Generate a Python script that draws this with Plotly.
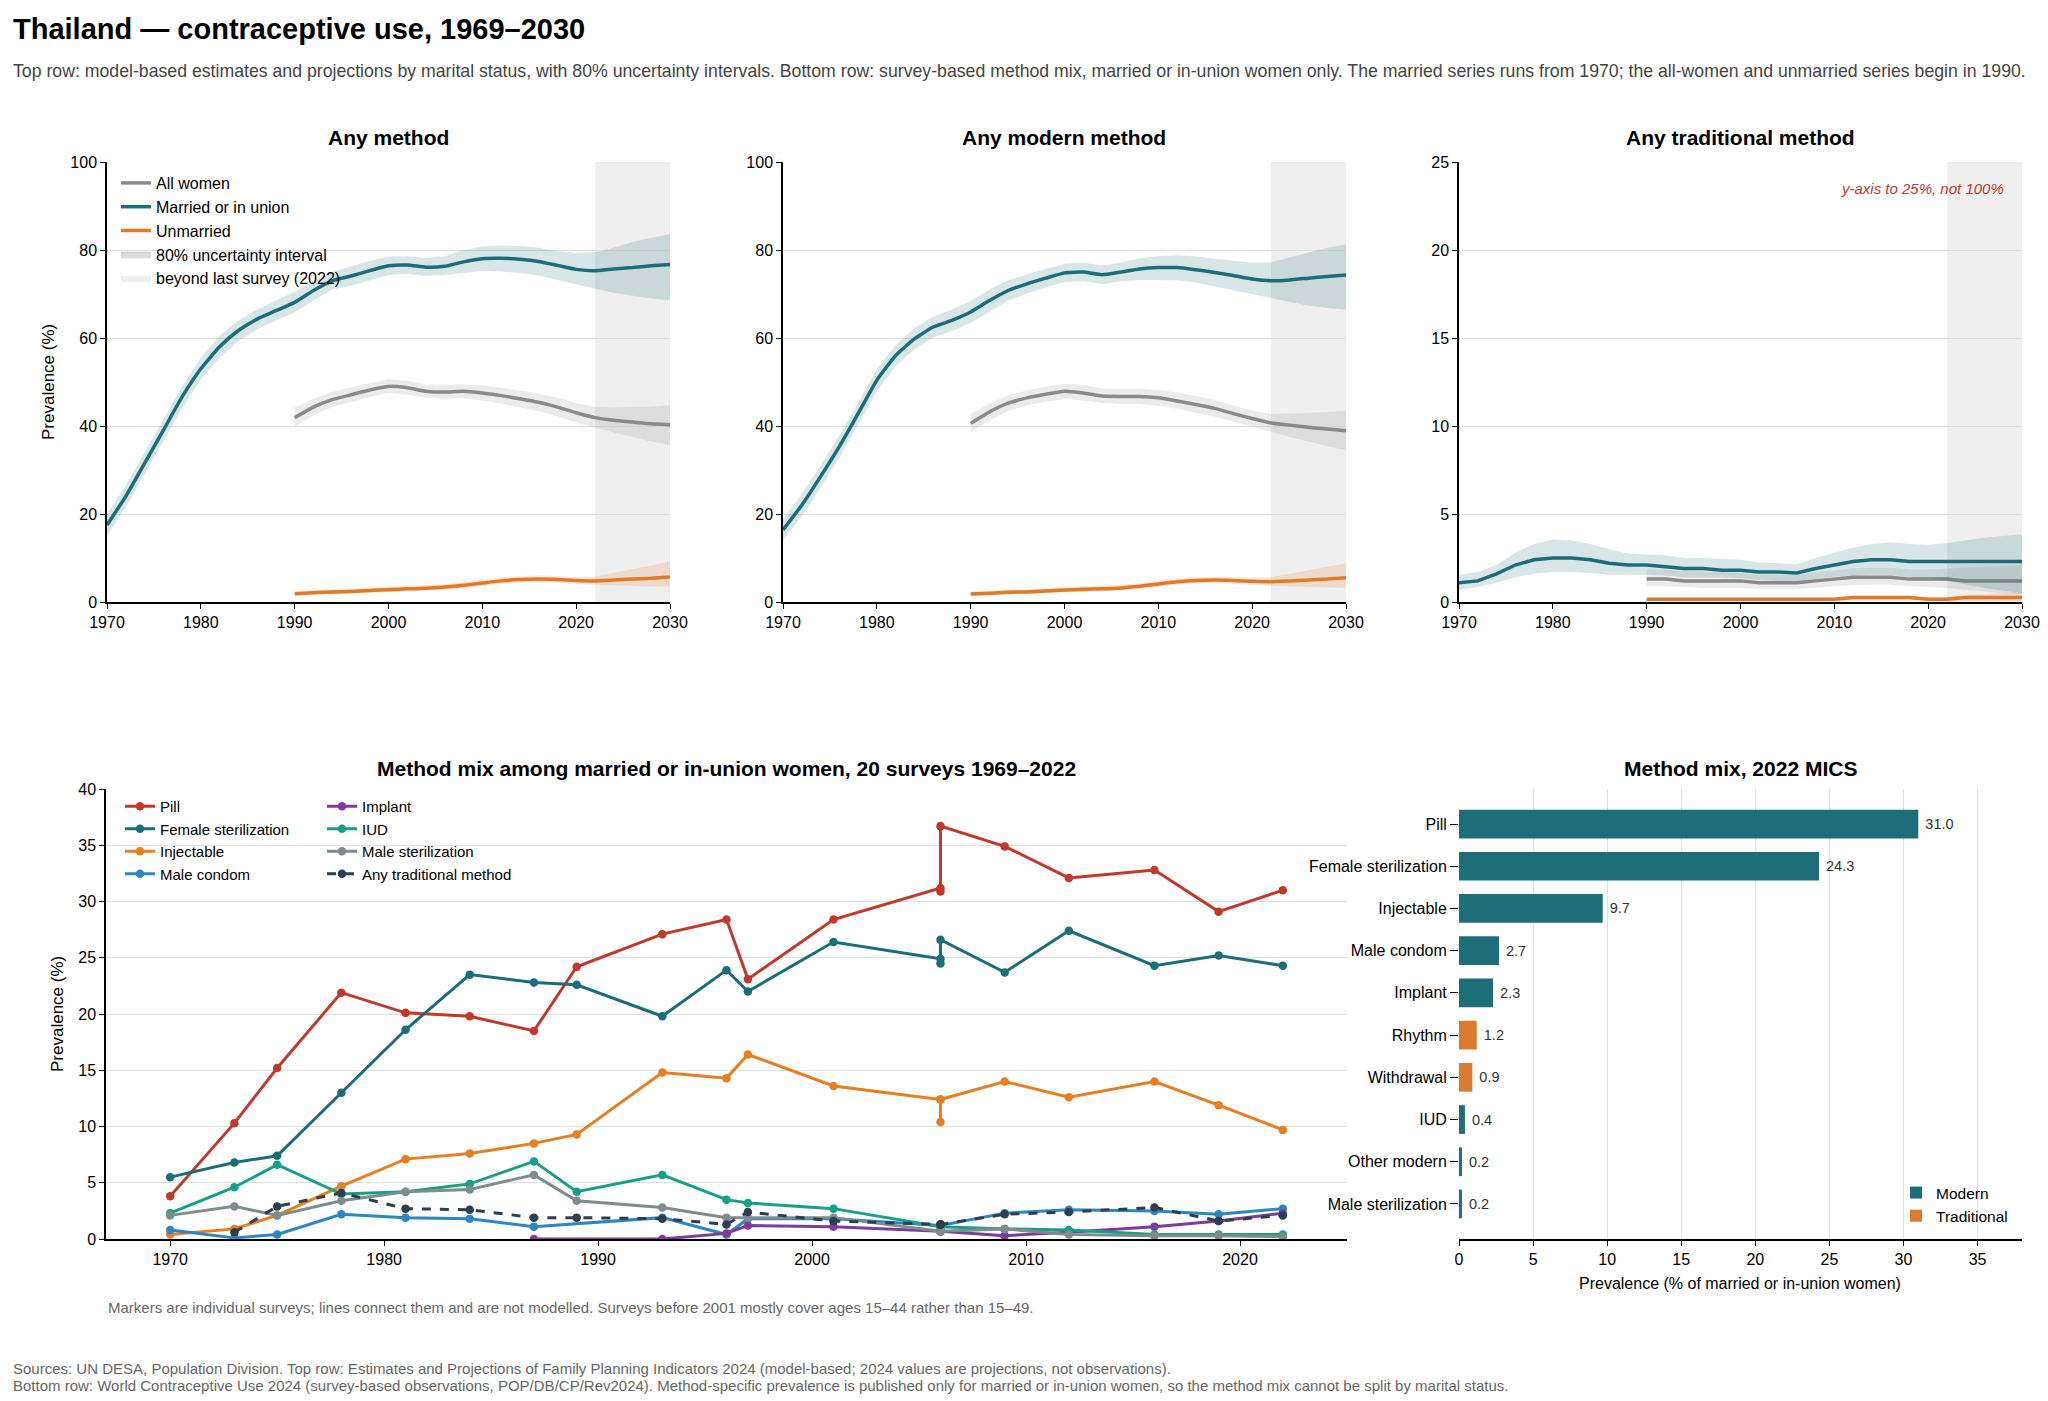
import plotly.graph_objects as go

# %% data -------------------------------------------------------------

# top row: model-based estimates, 2-year steps
years_married = list(range(1970, 2031, 2))
years_all = list(range(1990, 2031, 2))

# Any method
any_married = [17.5, 24.0, 31.5, 39.0, 46.6, 53.0, 58.0, 61.7, 64.3, 66.2, 68.1, 70.8, 73.0, 74.1, 75.3, 76.4,
               76.6, 76.1, 76.3, 77.3, 78.0, 78.1, 77.9, 77.4, 76.5, 75.6, 75.3, 75.7, 76.0, 76.4, 76.7]
any_married_hi = [20.0, 26.5, 34.0, 41.5, 49.0, 55.5, 60.5, 64.0, 66.5, 68.5, 70.5, 73.0, 75.0, 76.3, 77.5, 78.5,
                  78.6, 78.2, 78.6, 80.0, 80.8, 81.0, 80.9, 80.5, 79.8, 79.3, 79.5, 80.5, 81.8, 82.8, 83.6]
any_married_lo = [15.0, 21.5, 29.0, 36.5, 44.0, 50.5, 55.5, 59.3, 62.0, 64.0, 65.8, 68.5, 71.0, 71.9, 73.1, 74.3,
                  74.6, 74.1, 74.3, 74.8, 75.2, 75.1, 74.8, 74.2, 73.2, 72.2, 71.2, 70.3, 69.6, 69.0, 68.6]
any_all = [41.9, 44.3, 46.0, 47.1, 48.2, 49.0, 48.7, 47.9, 47.7, 47.9, 47.5, 46.9, 46.2, 45.4, 44.3, 43.0,
           41.9, 41.3, 40.9, 40.5, 40.3]
any_all_hi = [44.2, 46.2, 47.8, 48.8, 49.8, 50.6, 50.3, 49.4, 49.2, 49.5, 49.2, 48.7, 48.1, 47.4, 46.4, 45.2,
              44.3, 44.2, 44.3, 44.4, 44.7]
any_all_lo = [39.8, 42.4, 44.3, 45.5, 46.6, 47.5, 47.1, 46.4, 46.2, 46.3, 45.8, 45.1, 44.3, 43.4, 42.2, 40.8,
              39.6, 38.5, 37.5, 36.5, 35.7]
any_unm = [1.9, 2.1, 2.3, 2.4, 2.6, 2.8, 3.0, 3.1, 3.4, 3.8, 4.3, 4.8, 5.1, 5.2, 5.1, 4.9, 4.8, 5.0, 5.2, 5.4, 5.7]
any_unm_hi = [2.5, 2.7, 2.9, 3.0, 3.3, 3.5, 3.7, 3.8, 4.1, 4.6, 5.1, 5.6, 5.9, 6.0, 5.9, 5.7, 5.8, 6.6, 7.5, 8.3, 9.2]
any_unm_lo = [1.4, 1.6, 1.8, 1.9, 2.1, 2.3, 2.4, 2.5, 2.8, 3.1, 3.6, 4.1, 4.4, 4.5, 4.3, 4.1, 3.9, 3.7, 3.6, 3.5, 3.4]

# Any modern method
mod_married = [16.4, 22.0, 28.5, 35.3, 42.8, 50.4, 56.0, 59.8, 62.5, 64.0, 65.9, 68.5, 70.8, 72.3, 73.6, 74.8,
               75.0, 74.4, 75.0, 75.7, 76.0, 76.0, 75.5, 74.9, 74.2, 73.4, 73.0, 73.2, 73.6, 74.0, 74.3]
mod_married_hi = [18.8, 24.5, 31.0, 37.8, 45.3, 52.9, 58.4, 62.2, 64.9, 66.5, 68.4, 71.0, 73.1, 74.5, 75.7, 76.9,
                  77.1, 76.5, 77.1, 78.1, 78.6, 78.8, 78.5, 78.0, 77.5, 77.1, 77.2, 78.3, 79.5, 80.5, 81.3]
mod_married_lo = [14.0, 19.5, 26.0, 32.8, 40.3, 47.9, 53.6, 57.4, 60.1, 61.6, 63.4, 66.0, 68.5, 70.1, 71.5, 72.7,
                  72.9, 72.3, 72.9, 73.2, 73.2, 73.1, 72.6, 71.8, 70.9, 69.9, 69.1, 68.2, 67.4, 66.8, 66.4]
mod_all = [40.6, 43.2, 45.2, 46.4, 47.2, 47.9, 47.5, 46.8, 46.7, 46.7, 46.4, 45.7, 44.9, 44.0, 42.8, 41.7,
           40.7, 40.2, 39.7, 39.3, 38.9]
mod_all_hi = [42.8, 45.1, 47.0, 48.1, 48.9, 49.6, 49.3, 48.5, 48.4, 48.5, 48.2, 47.6, 46.8, 45.9, 44.6, 43.5,
              42.7, 42.8, 43.0, 43.2, 43.4]
mod_all_lo = [38.6, 41.3, 43.4, 44.7, 45.5, 46.2, 45.8, 45.2, 45.0, 45.0, 44.6, 43.9, 43.0, 42.1, 41.0, 39.9,
              38.7, 37.5, 36.5, 35.4, 34.5]
mod_unm = [1.8, 2.0, 2.2, 2.3, 2.5, 2.7, 2.9, 3.0, 3.2, 3.6, 4.1, 4.6, 4.9, 5.0, 4.9, 4.7, 4.6, 4.8, 5.0, 5.2, 5.5]
mod_unm_hi = [2.4, 2.6, 2.8, 2.9, 3.2, 3.4, 3.6, 3.7, 3.9, 4.4, 4.9, 5.4, 5.7, 5.8, 5.7, 5.5, 5.6, 6.4, 7.2, 8.0, 8.8]
mod_unm_lo = [1.3, 1.5, 1.7, 1.8, 2.0, 2.2, 2.3, 2.4, 2.6, 2.9, 3.4, 3.9, 4.2, 4.3, 4.1, 3.9, 3.7, 3.5, 3.4, 3.3, 3.2]

# Any traditional method
trad_married = [1.1, 1.2, 1.6, 2.1, 2.4, 2.5, 2.5, 2.4, 2.2, 2.1, 2.1, 2.0, 1.9, 1.9, 1.8, 1.8,
                1.7, 1.7, 1.65, 1.9, 2.1, 2.3, 2.4, 2.4, 2.3, 2.3, 2.3, 2.3, 2.3, 2.3, 2.3]
trad_married_hi = [1.55, 1.7, 2.1, 2.8, 3.3, 3.55, 3.5, 3.3, 3.0, 2.75, 2.7, 2.65, 2.5, 2.5, 2.45, 2.4,
                   2.25, 2.2, 2.15, 2.5, 2.8, 3.1, 3.3, 3.4, 3.3, 3.25, 3.35, 3.5, 3.65, 3.75, 3.85]
trad_married_lo = [0.7, 0.85, 1.1, 1.4, 1.6, 1.7, 1.7, 1.65, 1.55, 1.55, 1.55, 1.5, 1.4, 1.4, 1.4, 1.35,
                   1.25, 1.2, 1.2, 1.3, 1.45, 1.5, 1.55, 1.55, 1.4, 1.35, 1.2, 1.0, 0.8, 0.65, 0.5]
trad_all = [1.3, 1.3, 1.2, 1.2, 1.2, 1.2, 1.1, 1.1, 1.1, 1.2, 1.3, 1.4, 1.4, 1.4, 1.3, 1.3, 1.3, 1.2, 1.2, 1.2, 1.2]
trad_all_hi = [1.85, 1.85, 1.75, 1.7, 1.7, 1.65, 1.55, 1.55, 1.55, 1.7, 1.8, 1.9, 1.95, 1.95, 1.85, 1.85,
               1.9, 1.95, 2.0, 2.05, 2.1]
trad_all_lo = [0.9, 0.9, 0.85, 0.8, 0.8, 0.8, 0.75, 0.75, 0.75, 0.8, 0.9, 0.95, 1.0, 1.0, 0.9, 0.85,
               0.8, 0.7, 0.6, 0.5, 0.45]
trad_unm = [0.15, 0.15, 0.15, 0.15, 0.15, 0.15, 0.15, 0.15, 0.15, 0.15, 0.15, 0.25, 0.25, 0.25, 0.25, 0.15,
            0.15, 0.25, 0.25, 0.25, 0.25]
trad_unm_hi = [0.25, 0.25, 0.25, 0.25, 0.25, 0.25, 0.25, 0.25, 0.25, 0.25, 0.25, 0.35, 0.35, 0.35, 0.35, 0.25,
               0.3, 0.4, 0.45, 0.5, 0.55]
trad_unm_lo = [0.05] * 21

# bottom row: survey observations (three surveys in 2006)
survey_years = [1970, 1973, 1975, 1978, 1981, 1984, 1987, 1989, 1993, 1996, 1997, 2001,
                2006, 2006, 2006, 2009, 2012, 2016, 2019, 2022]
pill = [3.8, 10.3, 15.2, 21.9, 20.1, 19.8, 18.5, 24.2, 27.1, 28.4, 23.1, 28.4,
        31.2, 30.9, 36.7, 34.9, 32.1, 32.8, 29.1, 31.0]
female_ster = [5.5, 6.8, 7.4, 13.0, 18.6, 23.5, 22.8, 22.6, 19.8, 23.9, 22.0, 26.4,
               24.9, 24.5, 26.6, 23.7, 27.4, 24.3, 25.2, 24.3]
injectable = [0.4, 0.9, 2.1, 4.7, 7.1, 7.6, 8.5, 9.3, 14.8, 14.3, 16.4, 13.6,
              12.4, 10.4, 12.4, 14.0, 12.6, 14.0, 11.9, 9.7]
male_condom = [0.8, 0.1, 0.4, 2.2, 1.9, 1.8, 1.1, None, 1.9, 0.4, 1.8, 1.8,
               1.2, 1.2, 1.2, 2.3, 2.6, 2.5, 2.2, 2.7]
implant = [None, None, None, None, None, None, 0.0, None, 0.0, 0.5, 1.2, 1.1,
           0.7, 0.7, 0.7, 0.3, 0.6, 1.1, 1.6, 2.3]
iud = [2.3, 4.6, 6.6, 4.0, 4.2, 4.9, 6.9, 4.2, 5.7, 3.5, 3.2, 2.7,
       1.1, 1.1, 1.1, 0.9, 0.8, 0.4, 0.4, 0.4]
male_ster = [2.1, 2.9, 2.1, 3.4, 4.2, 4.4, 5.7, 3.4, 2.8, 1.9, 1.9, 1.9,
             0.7, 0.7, 0.7, 0.9, 0.4, 0.3, 0.3, 0.2]
any_trad_obs = [None, 0.6, 2.9, 4.1, 2.7, 2.6, 1.9, 1.9, 1.8, 1.3, 2.4, 1.6,
                1.3, 1.3, 1.3, 2.2, 2.4, 2.8, 1.6, 2.1]

# 2022 MICS method mix
mix_methods = ["Pill", "Female sterilization", "Injectable", "Male condom", "Implant",
               "Rhythm", "Withdrawal", "IUD", "Other modern", "Male sterilization"]
mix_values = [31.0, 24.3, 9.7, 2.7, 2.3, 1.2, 0.9, 0.4, 0.2, 0.2]
mix_type = ["Modern", "Modern", "Modern", "Modern", "Modern",
            "Traditional", "Traditional", "Modern", "Modern", "Modern"]

# %% styling -----------------------------------------------------------

# the page puts the figure 8px in from the top-left corner, so the figure is
# a bit smaller than the window and positions below are in window pixels
PAGE_OFFSET = 8
W, H = 2048 - PAGE_OFFSET, 1401 - PAGE_OFFSET
FONT = "Liberation Sans, Arial, sans-serif"

TEAL = "#1b6d77"
GREY = "#8a8a8a"
ORANGE = "#e07a28"


def fx(p):
    return (p - PAGE_OFFSET) / W


def fy(p):
    return 1 - (p - PAGE_OFFSET) / H


def rgba(hex_color, a):
    h = hex_color.lstrip("#")
    return f"rgba({int(h[0:2], 16)},{int(h[2:4], 16)},{int(h[4:6], 16)},{a})"


fig = go.Figure()

top_panels = [
    ("x", "y", "Any method",
     [(years_all, any_all, any_all_lo, any_all_hi),
      (years_married, any_married, any_married_lo, any_married_hi),
      (years_all, any_unm, any_unm_lo, any_unm_hi)]),
    ("x2", "y2", "Any modern method",
     [(years_all, mod_all, mod_all_lo, mod_all_hi),
      (years_married, mod_married, mod_married_lo, mod_married_hi),
      (years_all, mod_unm, mod_unm_lo, mod_unm_hi)]),
    ("x3", "y3", "Any traditional method",
     [(years_all, trad_all, trad_all_lo, trad_all_hi),
      (years_married, trad_married, trad_married_lo, trad_married_hi),
      (years_all, trad_unm, trad_unm_lo, trad_unm_hi)]),
]
series_names = ["All women", "Married or in union", "Unmarried"]
series_colors = [GREY, TEAL, ORANGE]

for i, (xa, ya, _, series) in enumerate(top_panels):
    for name, color, (yrs, mid, lo, hi) in zip(series_names, series_colors, series):
        fig.add_trace(go.Scatter(
            x=yrs + yrs[::-1], y=hi + lo[::-1], fill="toself",
            fillcolor=rgba(color, 0.17), line=dict(width=0), mode="lines",
            hoverinfo="skip", showlegend=False, xaxis=xa, yaxis=ya))
        fig.add_trace(go.Scatter(
            x=yrs, y=mid, mode="lines", name=name,
            line=dict(color=color, width=3.5, shape="spline" if i < 2 else "linear", smoothing=0.5),
            showlegend=(i == 0), legend="legend", xaxis=xa, yaxis=ya))

# legend-only patches
fig.add_trace(go.Scatter(x=[None], y=[None], mode="lines", fill="toself", name="80% uncertainty interval",
                         fillcolor="#dcdcdc", line=dict(color="#c4c4c4", width=1), legend="legend"))
fig.add_trace(go.Scatter(x=[None], y=[None], mode="lines", fill="toself", name="beyond last survey (2022)",
                         fillcolor="#efefef", line=dict(color="#efefef", width=0), legend="legend"))

# method mix lines
mix_series = [
    ("Pill", pill, "#c0392b", "solid", "legend2"),
    ("Female sterilization", female_ster, TEAL, "solid", "legend2"),
    ("Injectable", injectable, "#e67e22", "solid", "legend2"),
    ("Male condom", male_condom, "#2e86c1", "solid", "legend2"),
    ("Implant", implant, "#7d3c98", "solid", "legend3"),
    ("IUD", iud, "#17a085", "solid", "legend3"),
    ("Male sterilization", male_ster, "#7f8c8d", "solid", "legend3"),
    ("Any traditional method", any_trad_obs, "#2c3e50", "dash", "legend3"),
]
for name, vals, color, dash, lg in mix_series:
    fig.add_trace(go.Scatter(
        x=survey_years, y=vals, name=name, mode="lines+markers", connectgaps=True,
        line=dict(color=color, width=3, dash=dash), marker=dict(color=color, size=8.5),
        legend=lg, xaxis="x4", yaxis="y4"))

# 2022 bars
for kind, color in [("Modern", "#1d6e78"), ("Traditional", "#db7b2f")]:
    ys = [m for m, t in zip(mix_methods, mix_type) if t == kind]
    xs = [v for v, t in zip(mix_values, mix_type) if t == kind]
    fig.add_trace(go.Bar(
        x=xs, y=ys, orientation="h", name=kind, marker=dict(color=color, line=dict(width=0)),
        width=0.68, text=xs, texttemplate="\u00a0%{x:.1f}", textposition="outside",
        textfont=dict(size=14.5, color="#333333"), cliponaxis=False, constraintext="none",
        legend="legend4", xaxis="x5", yaxis="y5"))

# %% layout ------------------------------------------------------------

axis_common = dict(showline=True, linecolor="black", linewidth=1.5, ticks="outside", ticklen=5,
                   tickcolor="black", tickwidth=1.2, zeroline=False, automargin=False,
                   tickfont=dict(size=16, color="black"))
top_y = [fy(602), fy(162)]
bot_y = [fy(1239), fy(789)]
top_x = [[fx(107), fx(670)], [fx(783), fx(1346)], [fx(1459), fx(2022)]]

layout_axes = {}
for i, (xa, ya, _, _) in enumerate(top_panels):
    kx = "xaxis" if xa == "x" else "xaxis" + xa[1:]
    ky = "yaxis" if ya == "y" else "yaxis" + ya[1:]
    layout_axes[kx] = dict(axis_common, domain=top_x[i], anchor=ya, range=[1970, 2030],
                           tickvals=list(range(1970, 2031, 10)), showgrid=False)
    ymax = 25 if i == 2 else 100
    layout_axes[ky] = dict(axis_common, domain=top_y, anchor=xa, range=[0, ymax],
                           dtick=5 if i == 2 else 20, showgrid=True, gridcolor="#e0e0e0", gridwidth=1)

layout_axes["xaxis4"] = dict(axis_common, domain=[fx(106), fx(1347)], anchor="y4", range=[1967, 2025],
                             tickvals=list(range(1970, 2021, 10)), showgrid=False)
layout_axes["yaxis4"] = dict(axis_common, domain=bot_y, anchor="x4", range=[0, 40], dtick=5,
                             showgrid=True, gridcolor="#e0e0e0", gridwidth=1)
layout_axes["xaxis5"] = dict(axis_common, domain=[fx(1459), fx(2022)], anchor="y5", range=[0, 38],
                             dtick=5, showgrid=True, gridcolor="#e0e0e0", gridwidth=1)
layout_axes["yaxis5"] = dict(axis_common, domain=bot_y, anchor="x5", showline=False, showgrid=False,
                             categoryorder="array", categoryarray=mix_methods,
                             range=[len(mix_methods) - 1 + 0.83, -0.83], ticklen=8)

# shaded projection zone
shapes = [dict(type="rect", xref=xa, yref=f"{ya} domain", x0=2022, x1=2030, y0=0, y1=1,
               fillcolor="#efefef", line=dict(width=0), layer="below")
          for xa, ya, _, _ in top_panels]

annotations = [
    dict(text="<b>Thailand — contraceptive use, 1969–2030</b>", x=fx(11), y=fy(29),
         font=dict(size=29, color="black")),
    dict(text="Top row: model-based estimates and projections by marital status, with 80% uncertainty intervals. "
              "Bottom row: survey-based method mix, married or in-union women only. The married series runs "
              "from 1970; the all-women and unmarried series begin in 1990.",
         x=fx(11), y=fy(71), font=dict(size=17.7, color="#444444")),
    dict(text="y-axis to 25%, not 100%", x=fx(2006), y=fy(189), xanchor="right",
         font=dict(size=15, color="#c0392b", style="italic")),
    dict(text="Prevalence (%)", x=fx(49), y=fy(382), xanchor="center", textangle=-90,
         font=dict(size=17, color="black")),
    dict(text="Prevalence (%)", x=fx(58), y=fy(1014), xanchor="center", textangle=-90,
         font=dict(size=17, color="black")),
    dict(text="Prevalence (% of married or in-union women)", x=fx(1740), y=fy(1283), xanchor="center",
         font=dict(size=16, color="black")),
    dict(text="Markers are individual surveys; lines connect them and are not modelled. "
              "Surveys before 2001 mostly cover ages 15–44 rather than 15–49.",
         x=fx(106), y=fy(1307), font=dict(size=15, color="#666666")),
    dict(text="Sources: UN DESA, Population Division. Top row: Estimates and Projections of Family Planning "
              "Indicators 2024 (model-based; 2024 values are projections, not observations).",
         x=fx(11), y=fy(1368), font=dict(size=15, color="#666666")),
    dict(text="Bottom row: World Contraceptive Use 2024 (survey-based observations, POP/DB/CP/Rev2024). "
              "Method-specific prevalence is published only for married or in-union women, so the method "
              "mix cannot be split by marital status.",
         x=fx(11), y=fy(1385), font=dict(size=15, color="#666666")),
]
for cx, ty, txt in [(388, 138, "Any method"), (1064, 138, "Any modern method"),
                    (1740, 138, "Any traditional method"),
                    (726, 768, "Method mix among married or in-union women, 20 surveys 1969–2022"),
                    (1740, 768, "Method mix, 2022 MICS")]:
    annotations.append(dict(text=f"<b>{txt}</b>", x=fx(cx), y=fy(ty), xanchor="center",
                            font=dict(size=21, color="black")))
for a in annotations:
    a.setdefault("xanchor", "left")
    a.update(xref="paper", yref="paper", yanchor="middle", showarrow=False)

legend_common = dict(bgcolor="rgba(0,0,0,0)", font=dict(size=16, color="black"),
                     xanchor="left", yanchor="top", itemwidth=30, tracegroupgap=0)

fig.update_layout(
    width=W, height=H, template="none",
    margin=dict(l=0, r=0, t=0, b=0),
    paper_bgcolor="white", plot_bgcolor="white",
    font=dict(family=FONT, color="black"),
    barmode="overlay",
    shapes=shapes, annotations=annotations,
    legend=dict(legend_common, x=fx(116), y=fy(166)),
    legend2=dict(legend_common, x=fx(120), y=fy(790), font=dict(size=15, color="black")),
    legend3=dict(legend_common, x=fx(322), y=fy(790), font=dict(size=15, color="black")),
    legend4=dict(legend_common, x=fx(1896), y=fy(1176), font=dict(size=15.5, color="black")),
    **layout_axes,
)

fig.write_html("out.html")
